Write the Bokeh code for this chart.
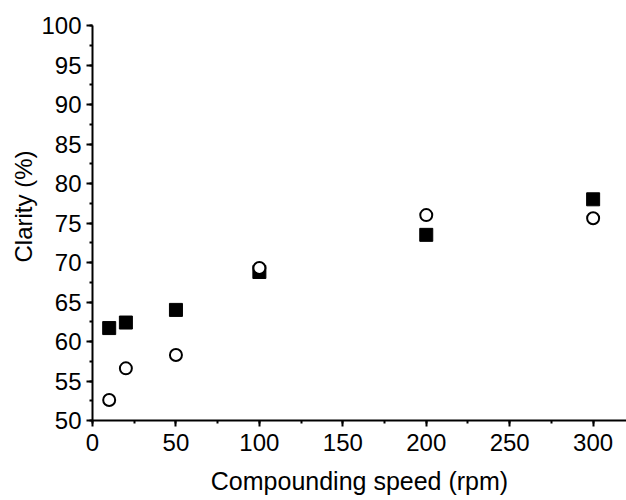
from bokeh.plotting import figure
from bokeh.models import Range1d, SingleIntervalTicker, Title
from bokeh.embed import file_html
from bokeh.resources import INLINE

speed = [10, 20, 50, 100, 200, 300]
clarity_square = [61.7, 62.4, 64.0, 68.8, 73.5, 78.0]
clarity_circle = [52.6, 56.6, 58.3, 69.3, 76.0, 75.6]

FONT = "Liberation Sans"

p = figure(width=626, height=500, output_backend="svg", toolbar_location=None,
           x_range=Range1d(0, 320), y_range=Range1d(50, 100),
           min_border_left=92, min_border_right=0, min_border_top=25, min_border_bottom=80)
p.outline_line_color = None
p.xgrid.visible = False
p.ygrid.visible = False
p.background_fill_color = "white"

p.xaxis.ticker = SingleIntervalTicker(interval=50, num_minor_ticks=2)
p.yaxis.ticker = SingleIntervalTicker(interval=5, num_minor_ticks=2)
p.xaxis.axis_label = "Compounding speed (rpm)"

for ax in (p.xaxis, p.yaxis):
    ax.axis_line_width = 2
    ax.axis_line_color = "black"
    ax.major_tick_line_width = 2
    ax.minor_tick_line_width = 2
    ax.major_tick_line_color = "black"
    ax.minor_tick_line_color = "black"
    ax.major_tick_out = 6
    ax.major_tick_in = 0
    ax.minor_tick_out = 3
    ax.minor_tick_in = 0
    ax.major_label_text_font = FONT
    ax.major_label_text_font_size = "24px"
    ax.major_label_text_color = "black"
    ax.axis_label_text_font = FONT
    ax.axis_label_text_font_size = "25px"
    ax.axis_label_text_font_style = "normal"
    ax.axis_label_text_color = "black"

p.xaxis.major_label_standoff = 7
p.yaxis.major_label_standoff = 5
p.xaxis.axis_label_standoff = 13

ytitle = Title(text="Clarity (%)", align="right", offset=125, standoff=4,
               text_font=FONT, text_font_size="24px", text_font_style="normal",
               text_color="black")
p.add_layout(ytitle, "left")

p.scatter(speed, clarity_square, marker="square", size=13, fill_color="black", line_color="black")
p.scatter(speed, clarity_circle, marker="circle", size=12, fill_color="white", line_color="black", line_width=2)

open("out.html", "w").write(file_html(p, INLINE))
